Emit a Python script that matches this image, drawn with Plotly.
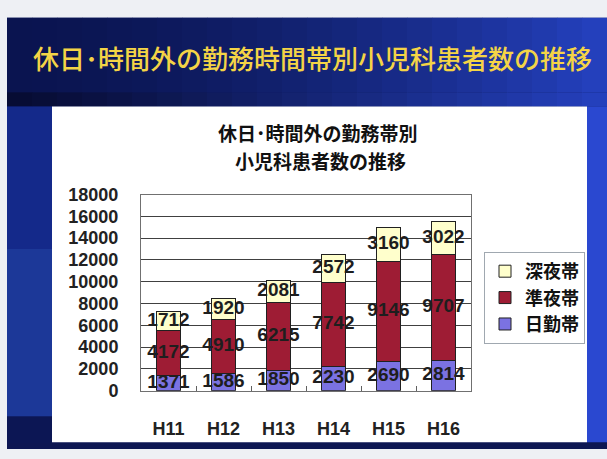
import plotly.graph_objects as go

# Fiscal years (Heisei era)
years = ["H11", "H12", "H13", "H14", "H15", "H16"]

# Pediatric patients by shift, holidays / after hours
day_shift = [1371, 1586, 1850, 2230, 2690, 2814]        # 日勤帯
evening_shift = [4172, 4910, 6215, 7742, 9146, 9707]    # 準夜帯
night_shift = [1712, 1920, 2081, 2572, 3160, 3022]      # 深夜帯

series = [
    ("日勤帯", day_shift, "#7b72e2"),
    ("準夜帯", evening_shift, "#9e1c34"),
    ("深夜帯", night_shift, "#ffffcc"),
]

W, H = 607, 459
NUM_FONT = "Liberation Sans, Arial"
JP_FONT = "Noto Sans CJK JP"


def px_x(v):
    return v / W


def px_y(v):
    return 1 - v / H


def rect(x0, x1, y0, y1, color):
    return dict(type="rect", xref="paper", yref="paper",
                x0=px_x(x0), x1=px_x(x1), y0=px_y(y1), y1=px_y(y0),
                fillcolor=color, line_width=0, layer="below")


def blend(c0, c1, t):
    a = [int(c0[i:i + 2], 16) for i in (1, 3, 5)]
    b = [int(c1[i:i + 2], 16) for i in (1, 3, 5)]
    return "#" + "".join(f"{round(p + (q - p) * t):02x}" for p, q in zip(a, b))


fig = go.Figure()

base = [0] * len(years)
label_x, label_y, label_t = [], [], []
for name, vals, color in series:
    fig.add_trace(go.Bar(
        x=years, y=vals, name=name,
        marker=dict(color=color, line=dict(color="#202020", width=1)),
    ))
    for i, v in enumerate(vals):
        label_x.append(years[i])
        label_y.append(base[i] + v / 2)
        label_t.append(str(v))
        base[i] += v

# value labels centred on each segment
fig.add_trace(go.Scatter(
    x=label_x, y=label_y, text=label_t, mode="text",
    textfont=dict(family=NUM_FONT, size=19, color="#1e1e1e", weight="bold"),
    textposition="middle center", showlegend=False, cliponaxis=False,
    hoverinfo="skip",
))

# slide background: dark navy header band fading to blue on the right
shapes = [rect(7, 607, 8, 459, "#0e1a60")]
steps = 24
for k in range(steps):
    x0 = 7 + (600 * k) / steps
    x1 = 7 + (600 * (k + 1)) / steps + 0.5
    t = (k / (steps - 1)) ** 1.6
    shapes.append(rect(x0, x1, 8, 86, blend("#0a1450", "#2440bc", t)))
    shapes.append(rect(x0, x1, 86, 101, blend("#070c34", "#2440bc", t ** 0.7)))
shapes += [
    rect(7, 52, 101, 250, "#14298a"),
    rect(7, 52, 250, 425, "#1c3898"),
    rect(7, 52, 425, 452, "#0c1654"),
    rect(7, 607, 452, 459, "#0d1652"),
    rect(587, 607, 101, 452, "#2a48d0"),
    # white chart panel
    rect(52, 587, 101, 452, "#ffffff"),
]

annotations = [
    dict(text="休日･時間外の勤務時間帯別小児科患者数の推移", xref="paper", yref="paper",
         x=px_x(312), y=px_y(50), xanchor="center", yanchor="middle", showarrow=False,
         font=dict(family=JP_FONT, size=26, color="#f4d446", weight=500)),
    dict(text="休日･時間外の勤務帯別", xref="paper", yref="paper",
         x=px_x(318), y=px_y(128), xanchor="center", yanchor="middle", showarrow=False,
         font=dict(family=JP_FONT, size=19, color="#111111", weight="bold")),
    dict(text="小児科患者数の推移", xref="paper", yref="paper",
         x=px_x(320), y=px_y(157), xanchor="center", yanchor="middle", showarrow=False,
         font=dict(family=JP_FONT, size=19, color="#111111", weight="bold")),
]

fig.update_layout(
    width=W, height=H,
    margin=dict(l=0, r=0, t=0, b=0),
    paper_bgcolor="#eef0f4",
    plot_bgcolor="#bdb1cd",
    barmode="stack",
    bargap=0.58,
    shapes=shapes,
    annotations=annotations,
    legend=dict(
        x=px_x(484), y=px_y(253), xanchor="left", yanchor="top",
        traceorder="reversed", bgcolor="#ffffff", bordercolor="#a0a8b0", borderwidth=1,
        font=dict(family=JP_FONT, size=18, color="#111111", weight="bold"),
        itemwidth=30, tracegroupgap=0,
    ),
    showlegend=True,
    xaxis=dict(
        domain=[px_x(141), px_x(471)],
        tickfont=dict(family=NUM_FONT, size=18, color="#222222", weight="bold"),
        showline=True, linecolor="#707070", mirror=True,
        ticks="inside", tickson="boundaries", ticklen=5, tickcolor="#606060",
        ticklabelstandoff=22,
    ),
    yaxis=dict(
        domain=[px_y(398), px_y(193)],
        range=[0, 18000], dtick=2000, tickformat="d",
        tickfont=dict(family=NUM_FONT, size=18, color="#222222", weight="bold"),
        showgrid=True, gridcolor="#404040", gridwidth=1,
        showline=True, linecolor="#707070", mirror=True,
        ticklabelstandoff=18, zeroline=False,
    ),
)

fig.write_html("out.html")
